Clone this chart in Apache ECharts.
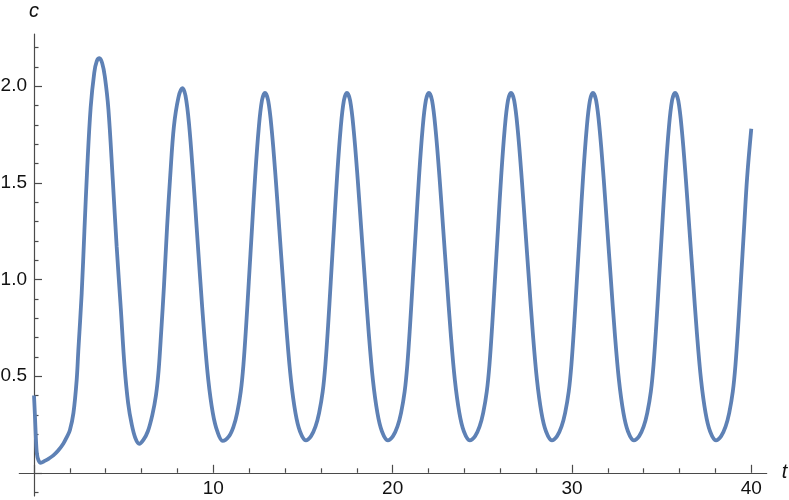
<!DOCTYPE html>
<html>
<head>
<meta charset="utf-8">
<script src="https://cdn.jsdelivr.net/npm/echarts@6/dist/echarts.min.js"></script>
<style>html,body{margin:0;padding:0;background:#fff}#chart{width:789px;height:500px}</style>
</head>
<body>
<div id="chart"></div>
<script>
// time values (t)
const tValues = [
  0, 0.05, 0.1, 0.16, 0.25, 0.37, 0.6, 0.85, 1.08, 1.35, 1.64, 1.83, 2.0, 2.2, 2.38, 2.47, 2.66, 2.81, 2.97, 3.16, 3.36, 3.5, 3.65, 3.8, 3.95, 4.15, 4.39, 4.61, 4.84, 5.05, 5.25, 5.45, 5.65, 5.87,
  6.1, 6.35, 6.6, 6.8, 6.95, 7.1, 7.25, 7.42, 7.6, 7.8, 8.05, 8.27, 8.45, 8.65, 8.87, 9.07, 9.27, 9.49, 9.72, 9.97, 10.22, 10.52,
  10.88, 11.13, 11.33, 11.53, 11.68, 11.83, 11.98, 12.16, 12.33, 12.53, 12.71, 12.88, 13.06, 13.26, 13.48, 13.68, 13.88, 14.10, 14.33, 14.58, 14.83, 15.16,
  15.45, 15.70, 15.90, 16.10, 16.25, 16.40, 16.55, 16.73, 16.90, 17.10, 17.28, 17.45, 17.63, 17.83, 18.05, 18.25, 18.45, 18.67, 18.90, 19.15, 19.40, 19.73,
  20.02, 20.27, 20.47, 20.67, 20.82, 20.97, 21.12, 21.30, 21.47, 21.67, 21.85, 22.02, 22.20, 22.40, 22.62, 22.82, 23.02, 23.24, 23.47, 23.72, 23.97, 24.30,
  24.60, 24.85, 25.05, 25.25, 25.40, 25.55, 25.70, 25.88, 26.05, 26.25, 26.43, 26.60, 26.78, 26.98, 27.20, 27.40, 27.60, 27.82, 28.05, 28.30, 28.55, 28.88,
  29.17, 29.42, 29.62, 29.82, 29.97, 30.12, 30.27, 30.45, 30.62, 30.82, 31.00, 31.17, 31.35, 31.55, 31.77, 31.97, 32.17, 32.39, 32.62, 32.87, 33.12, 33.45,
  33.75, 34.00, 34.20, 34.40, 34.55, 34.70, 34.85, 35.03, 35.20, 35.40, 35.58, 35.75, 35.93, 36.13, 36.35, 36.55, 36.75, 36.97, 37.20, 37.45, 37.70, 38.03,
  38.32, 38.57, 38.77, 38.97, 39.12, 39.27, 39.42, 39.60, 39.77, 40.0
];
// concentration values (c)
const cValues = [
  0.40, 0.30, 0.19, 0.10, 0.065, 0.052, 0.062, 0.075, 0.09, 0.115, 0.152, 0.185, 0.22, 0.31, 0.48, 0.63, 0.93, 1.25, 1.58, 1.89, 2.07, 2.13, 2.145, 2.12, 2.05, 1.88, 1.52, 1.17, 0.85, 0.55, 0.36, 0.25, 0.18, 0.15,
  0.17, 0.215, 0.30, 0.40, 0.53, 0.74, 0.97, 1.27, 1.54, 1.79, 1.94, 1.99, 1.95, 1.80, 1.54, 1.27, 1.0, 0.72, 0.48, 0.31, 0.215, 0.165,
  0.19, 0.24, 0.31, 0.42, 0.56, 0.76, 0.99, 1.27, 1.53, 1.78, 1.925, 1.965, 1.925, 1.77, 1.52, 1.26, 1.0, 0.72, 0.48, 0.31, 0.215, 0.168,
  0.19, 0.24, 0.31, 0.42, 0.56, 0.76, 0.99, 1.27, 1.53, 1.78, 1.925, 1.965, 1.925, 1.77, 1.52, 1.26, 1.0, 0.72, 0.48, 0.31, 0.215, 0.168,
  0.19, 0.24, 0.31, 0.42, 0.56, 0.76, 0.99, 1.27, 1.53, 1.78, 1.925, 1.965, 1.925, 1.77, 1.52, 1.26, 1.0, 0.72, 0.48, 0.31, 0.215, 0.168,
  0.19, 0.24, 0.31, 0.42, 0.56, 0.76, 0.99, 1.27, 1.53, 1.78, 1.925, 1.965, 1.925, 1.77, 1.52, 1.26, 1.0, 0.72, 0.48, 0.31, 0.215, 0.168,
  0.19, 0.24, 0.31, 0.42, 0.56, 0.76, 0.99, 1.27, 1.53, 1.78, 1.925, 1.965, 1.925, 1.77, 1.52, 1.26, 1.0, 0.72, 0.48, 0.31, 0.215, 0.168,
  0.19, 0.24, 0.31, 0.42, 0.56, 0.76, 0.99, 1.27, 1.53, 1.78, 1.925, 1.965, 1.925, 1.77, 1.52, 1.26, 1.0, 0.72, 0.48, 0.31, 0.215, 0.168,
  0.19, 0.24, 0.31, 0.42, 0.56, 0.76, 0.99, 1.27, 1.53, 1.78
];
// tick positions
const xMajorTicks = [0, 10, 20, 30, 40];
const xTickLabels = [10, 20, 30, 40];
const xMinorTicks = [2, 4, 6, 8, 12, 14, 16, 18, 22, 24, 26, 28, 32, 34, 36, 38];
const yMajorTicks = [0, 0.5, 1.0, 1.5, 2.0];
const yTickLabels = [0.5, 1.0, 1.5, 2.0];
const yMinorTicks = [-0.1, 0.1, 0.2, 0.3, 0.4, 0.6, 0.7, 0.8, 0.9, 1.1, 1.2, 1.3, 1.4, 1.6, 1.7, 1.8, 1.9, 2.1, 2.2];

const data = tValues.map((t, i) => [t, cValues[i]]);

// plot range and grid
const W = 789, H = 500;
const xMin = -0.82, xMax = 40.86, yMin = -0.12, yMax = 2.27;
const gLeft = 19.3, gRight = 22.3, gTop = 34, gBottom = 4;
const gW = W - gLeft - gRight, gH = H - gTop - gBottom;
// shift axes so they cross at the origin (0,0)
const yAxisOffset = -((0 - xMin) / (xMax - xMin)) * gW;
const xAxisOffset = -((0 - yMin) / (yMax - yMin)) * gH;

const axisColor = '#4a4a4a';
const labelFont = { fontFamily: 'Liberation Sans, Arial, sans-serif', fontSize: 19, color: '#111' };
const nameFont = { fontFamily: 'Liberation Sans, Arial, sans-serif', fontStyle: 'italic', fontSize: 20, color: '#111' };

const chart = echarts.init(document.getElementById('chart'), null, { renderer: 'canvas' });
chart.setOption({
  animation: false,
  backgroundColor: '#fff',
  grid: { left: gLeft, right: gRight, top: gTop, bottom: gBottom, containLabel: false, outerBoundsMode: 'none' },
  xAxis: [
    {
      type: 'value', min: xMin, max: xMax, position: 'bottom', offset: xAxisOffset,
      axisLine: { show: true, onZero: false, lineStyle: { color: axisColor, width: 1.2 } },
      axisTick: { show: true, inside: true, length: 8, customValues: xMajorTicks, lineStyle: { color: axisColor, width: 1.2 } },
      axisLabel: { show: true, customValues: xTickLabels, margin: 6, ...labelFont },
      splitLine: { show: false },
      name: 't', nameLocation: 'end', nameGap: 15,
      nameTextStyle: { ...nameFont, verticalAlign: 'middle', padding: [0, 0, 8, 0] }
    },
    {
      type: 'value', min: xMin, max: xMax, position: 'bottom', offset: xAxisOffset,
      axisLine: { show: false, onZero: false },
      axisTick: { show: true, inside: true, length: 4.5, customValues: xMinorTicks, lineStyle: { color: axisColor, width: 1.2 } },
      axisLabel: { show: false },
      splitLine: { show: false }
    }
  ],
  yAxis: [
    {
      type: 'value', min: yMin, max: yMax, position: 'left', offset: yAxisOffset,
      axisLine: { show: true, onZero: false, lineStyle: { color: axisColor, width: 1.2 } },
      axisTick: { show: true, inside: true, length: 8, customValues: yMajorTicks, lineStyle: { color: axisColor, width: 1.2 } },
      axisLabel: { show: true, customValues: yTickLabels, margin: 7, formatter: v => Number(v).toFixed(1), ...labelFont },
      splitLine: { show: false },
      name: 'c', nameLocation: 'end', nameGap: 13,
      nameTextStyle: { ...nameFont, align: 'center' }
    },
    {
      type: 'value', min: yMin, max: yMax, position: 'left', offset: yAxisOffset,
      axisLine: { show: false, onZero: false },
      axisTick: { show: true, inside: true, length: 4.5, customValues: yMinorTicks, lineStyle: { color: axisColor, width: 1.2 } },
      axisLabel: { show: false },
      splitLine: { show: false }
    }
  ],
  series: [{
    type: 'line',
    xAxisIndex: 0, yAxisIndex: 0,
    data: data,
    showSymbol: false,
    smooth: 0.35,
    lineStyle: { color: '#5E81B5', width: 3.8 },
    clip: false
  }]
});
</script>
</body>
</html>
